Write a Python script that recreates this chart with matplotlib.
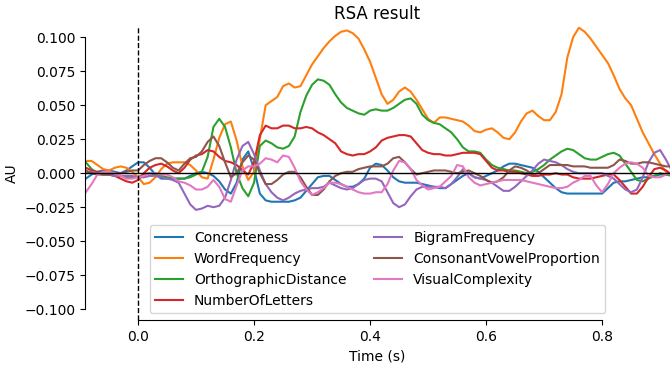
import numpy as np
import matplotlib
matplotlib.use("Agg")
from matplotlib import pyplot as plt

# time grid (s), one sample every 10 ms
times = np.linspace(-0.09, 0.92, 102)

names = ["Concreteness", "WordFrequency", "OrthographicDistance", "NumberOfLetters",
         "BigramFrequency", "ConsonantVowelProportion", "VisualComplexity"]

# RSA values in units of 1e-3 AU
concreteness = [
    -4, -1, 1, 2, 2, 1, 0, 2, 5, 8,
    8, 4, -1, -4, -4, -4, -4, -4, -2, 0,
    1, 0, -2, -6, -12, -15, -7, 10, 16, 3,
    -15, -20, -21, -21, -21, -21, -20, -18, -13, -8,
    -3, -2, -2, -5, -8, -10, -10, -8, -4, 4,
    7, 6, 2, -3, -6, -7, -7, -7, -8, -9,
    -10, -11, -11, -8, -5, -2, 0, -3, -4, -2,
    0, 2, 5, 7, 7, 6, 5, 4, 1, -3,
    -7, -11, -14, -15, -15, -15, -15, -15, -15, -15,
    -11, -7, -6, -6, -5, -4, -3, -3, -2, -1,
    -1, -1]
word_frequency = [
    9, 9, 6, 3, 2, 4, 5, 4, 1, -3,
    -8, -7, -3, 3, 7, 8, 8, 8, 6, 2,
    -3, -4, 10, 26, 36, 38, 24, 5, -5, 1,
    25, 50, 53, 56, 64, 66, 63, 64, 72, 80,
    86, 92, 97, 101, 104, 105, 103, 99, 91, 82,
    70, 58, 51, 54, 60, 63, 60, 54, 47, 40,
    37, 41, 41, 40, 39, 38, 35, 31, 30, 32,
    33, 30, 26, 25, 30, 38, 44, 46, 42, 39,
    39, 45, 58, 85, 100, 107, 104, 99, 93, 87,
    81, 72, 62, 55, 50, 40, 30, 22, 14, 7,
    1, -1]
orthographic = [
    8, 3, 0, -1, -1, -2, -2, -3, -3, -3,
    -1, 0, -1, -2, -3, -4, -4, -4, -3, -1,
    1, 12, 34, 40, 34, 19, 0, -11, -17, -7,
    20, 24, 22, 19, 18, 20, 27, 45, 57, 65,
    69, 68, 65, 58, 52, 48, 46, 44, 43, 46,
    47, 46, 46, 48, 51, 54, 55, 51, 43, 39,
    37, 36, 33, 30, 25, 19, 16, 16, 15, 10,
    6, 4, 3, 2, 2, 1, 0, 1, 3, 6,
    10, 13, 16, 18, 17, 14, 11, 10, 10, 12,
    14, 15, 13, 7, 1, -5, -6, -4, -2, 0,
    -1, -2]
n_letters = [
    4, 2, 1, 0, -1, -2, -4, -6, -7, -5,
    0, 4, 6, 7, 5, 2, 0, 4, 10, 13,
    14, 17, 16, 12, 9, 8, 6, 2, -1, 8,
    28, 35, 33, 33, 35, 35, 33, 33, 34, 33,
    30, 28, 25, 22, 16, 14, 13, 14, 14, 16,
    19, 24, 26, 27, 28, 28, 27, 22, 17, 15,
    14, 14, 13, 13, 14, 15, 15, 15, 14, 9,
    4, 2, 2, 1, 1, 0, -1, -2, -2, -1,
    -1, 0, -1, -1, -3, -4, -4, -4, -3, -2,
    -1, -1, -5, -10, -15, -15, -10, -3, 3, 4,
    2, -1]
bigram = [
    0, 1, 0, -1, -1, -2, -2, -2, -2, -3,
    -3, -2, -2, -3, -4, -5, -7, -15, -23, -27,
    -26, -24, -25, -24, -18, -5, 10, 20, 23, 14,
    2, -8, -14, -18, -20, -18, -15, -13, -12, -11,
    -11, -10, -7, -9, -11, -12, -11, -8, -5, -4,
    -4, -6, -14, -22, -25, -23, -17, -12, -10, -10,
    -10, -10, -11, -8, -3, 3, 0, -3, -4, -5,
    -7, -10, -13, -13, -10, -6, -2, 2, 7, 10,
    9, 8, 6, 3, 1, 0, 0, 0, 0, 0,
    -2, -4, -8, -12, -14, -12, -3, 8, 15, 17,
    10, 2]
cv_proportion = [
    2, 0, -1, -1, -1, 0, 0, 1, 2, 2,
    6, 9, 11, 11, 8, 4, 2, 7, 11, 12,
    16, 23, 27, 20, 8, -3, 0, 8, 13, 10,
    0, -8, -8, -5, -1, 1, 1, -3, -10, -16,
    -16, -12, -6, -2, 0, 1, 1, 3, 4, 5,
    5, 5, 7, 11, 12, 8, 3, -1, 0, 1,
    2, 2, 2, 1, 0, 1, 2, 0, -2, -5,
    -7, -6, -3, 2, 5, 4, 2, -1, 0, 3,
    6, 6, 6, 6, 5, 5, 5, 4, 4, 4,
    4, 6, 10, 9, 7, 7, 8, 8, 7, 6,
    5, 5]
visual = [
    -14, -8, -1, 1, 1, 0, -2, -4, -4, -3,
    -2, 0, 0, -1, -1, -3, -6, -7, -9, -12,
    -12, -10, -5, -10, -19, -21, -9, 2, 5, 5,
    7, 11, 10, 8, 13, 12, 4, -6, -12, -16,
    -14, -11, -7, -7, -8, -10, -12, -14, -15, -15,
    -14, -14, -8, 2, 9, 8, 3, -5, -9, -12,
    -11, -10, -6, -2, 6, 5, -3, -7, -9, -8,
    -7, -6, -5, -5, -5, -5, -6, -7, -8, -9,
    -10, -11, -11, -10, -7, -5, -2, -2, -9, -14,
    -8, 0, 4, 7, 8, 7, 4, -2, -3, -3,
    -1, 0]

series = [concreteness, word_frequency, orthographic, n_letters,
          bigram, cv_proportion, visual]

fig = plt.figure(figsize=(6.72, 3.67), dpi=100)
ax = fig.add_axes([0.1265, 0.128, 0.8705, 0.798])

for name, vals in zip(names, series):
    ax.plot(times, np.array(vals) * 1e-3, label=name)

ax.axhline(0, color='k', lw=1)
ax.axvline(0, color='k', ls='--', lw=1)

ax.set_xlim(-0.0914, 0.917)
ax.set_ylim(-0.108, 0.1074)
ax.set_yticks(np.arange(-0.1, 0.1001, 0.025))
ax.set_xticks([0.0, 0.2, 0.4, 0.6, 0.8])
ax.spines['top'].set_visible(False)
ax.spines['right'].set_visible(False)
ax.spines['left'].set_bounds(-0.1, 0.1)
ax.spines['bottom'].set_bounds(0.0, 0.8)

ax.set_xlabel("Time (s)")
ax.set_ylabel("AU")
ax.set_title("RSA result")
ax.legend(loc='lower center', ncol=2)

fig.savefig("out.png", dpi=100)
